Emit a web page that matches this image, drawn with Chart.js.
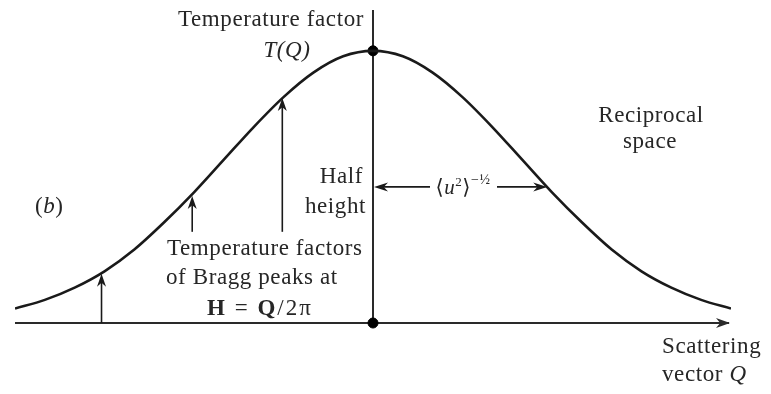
<!doctype html>
<html lang="en">
<head>
<meta charset="utf-8">
<title>Temperature factor T(Q)</title>
<script src="https://cdn.jsdelivr.net/npm/chart.js@4.4.1/dist/chart.umd.min.js"></script>
<style>
    html, body { margin: 0; background: #fff; }
    #wrap { width: 771px; height: 394px; }
</style>
</head>
<body>
<div id="wrap"><canvas id="chart"></canvas></div>
<script>
// scattering vector Q (arbitrary units) and the temperature factor T(Q)
const qValues = [-6, -5.5, -5, -4.5, -4, -3.5, -3, -2.5, -2, -1.5, -1, -0.5, 0,
                 0.5, 1, 1.5, 2, 2.5, 3, 3.5, 4, 4.5, 5, 5.5, 6];
const tValues = [0.053, 0.085, 0.13, 0.19, 0.27, 0.37, 0.48, 0.60, 0.72, 0.83, 0.92, 0.98, 1.00,
                 0.98, 0.92, 0.83, 0.72, 0.60, 0.48, 0.37, 0.27, 0.19, 0.13, 0.085, 0.053];

// Bragg peak positions, their temperature factors and where each arrow starts
const braggQ = [-4.55, -3.03, -1.52];
const braggT = [0.185, 0.47, 0.83];
const braggFrom = [0, 0.335, 0.335];

// half height and half width of the curve
const halfHeight = 0.5;
const halfWidth = 2.92;

const ink = '#1a1a1a';
const serif = '"Liberation Serif", "DejaVu Serif", serif';

function arrowHead(ctx, x, y, angle, len, half) {
    ctx.save();
    ctx.translate(x, y);
    ctx.rotate(angle);
    ctx.beginPath();
    ctx.moveTo(0, 0);
    ctx.lineTo(-len, -half);
    ctx.lineTo(-len * 0.7, 0);
    ctx.lineTo(-len, half);
    ctx.closePath();
    ctx.fill();
    ctx.restore();
}

// draw a line of text made of runs with their own fonts
function runs(ctx, parts, x, y, align, spacing) {
    ctx.letterSpacing = (spacing || 0) + 'px';
    let w = 0;
    parts.forEach(p => { ctx.font = p.font; w += ctx.measureText(p.t).width; });
    let cx = align === 'center' ? x - w / 2 : align === 'right' ? x - w : x;
    parts.forEach(p => {
        ctx.font = p.font;
        ctx.fillText(p.t, cx, y + (p.dy || 0));
        cx += ctx.measureText(p.t).width;
    });
    ctx.letterSpacing = '0px';
    return w;
}

const diagram = {
    id: 'diagram',
    beforeDatasetsDraw(chart) {
        const {ctx, chartArea, scales: {x, y}} = chart;
        const x0 = x.getPixelForValue(0), y0 = y.getPixelForValue(0);
        ctx.save();
        ctx.strokeStyle = '#2a2a2a';
        ctx.fillStyle = '#2a2a2a';
        ctx.lineWidth = 2;
        // Q axis
        ctx.beginPath();
        ctx.moveTo(chartArea.left, y0);
        ctx.lineTo(chartArea.right - 2, y0);
        ctx.stroke();
        arrowHead(ctx, chartArea.right - 1, y0, 0, 14, 5);
        // vertical line through Q = 0
        ctx.beginPath();
        ctx.moveTo(x0, chartArea.top);
        ctx.lineTo(x0, y0);
        ctx.stroke();
        ctx.restore();
    },
    afterDatasetsDraw(chart) {
        const {ctx, scales: {x, y}} = chart;
        const x0 = x.getPixelForValue(0);
        ctx.save();
        ctx.strokeStyle = ink;
        ctx.fillStyle = ink;
        ctx.lineWidth = 1.6;

        // temperature factors at the Bragg peaks
        braggQ.forEach((q, i) => {
            const px = x.getPixelForValue(q);
            const top = y.getPixelForValue(braggT[i]);
            ctx.beginPath();
            ctx.moveTo(px, y.getPixelForValue(braggFrom[i]));
            ctx.lineTo(px, top + 8);
            ctx.stroke();
            arrowHead(ctx, px, top + 1, -Math.PI / 2, 13, 4.5);
        });

        // half width at half height
        const hy = y.getPixelForValue(halfHeight);
        const hx = x.getPixelForValue(halfWidth);
        const gapL = 430, gapR = 497;
        ctx.beginPath();
        ctx.moveTo(x0 + 6, hy); ctx.lineTo(gapL, hy);
        ctx.moveTo(gapR, hy); ctx.lineTo(hx - 6, hy);
        ctx.stroke();
        arrowHead(ctx, x0 + 1, hy, Math.PI, 14, 4.5);
        arrowHead(ctx, hx, hy, 0, 14, 4.5);

        ctx.textBaseline = 'alphabetic';
        ctx.fillStyle = '#262626';
        const r = '23px ' + serif, it = 'italic 23px ' + serif, bd = 'bold 23px ' + serif;
        const sp = 0.6;

        runs(ctx, [{t: 'Temperature factor', font: r}], 364, 26, 'right', sp);
        runs(ctx, [{t: 'T(Q)', font: it}], 287, 57, 'center', sp);

        runs(ctx, [{t: '(', font: r}, {t: 'b', font: it}, {t: ')', font: r}], 35, 213, 'left', sp);

        runs(ctx, [{t: 'Half', font: r}], 363, 183, 'right', sp);
        runs(ctx, [{t: 'height', font: r}], 366, 213, 'right', sp);

        runs(ctx, [
            {t: '\u27E8', font: '21px ' + serif},
            {t: 'u', font: 'italic 21px ' + serif},
            {t: '2', font: '13px ' + serif, dy: -8},
            {t: '\u27E9', font: '21px ' + serif},
            {t: '\u2212\u00BD', font: '14px ' + serif, dy: -10}
        ], 463, hy + 7, 'center', 0.5);

        runs(ctx, [{t: 'Temperature factors', font: r}], 167, 255, 'left', sp);
        runs(ctx, [{t: 'of Bragg peaks at', font: r}], 166, 284, 'left', sp);
        runs(ctx, [
            {t: 'H', font: bd}, {t: ' = ', font: r}, {t: 'Q', font: bd}, {t: '/2\u03C0', font: r}
        ], 260, 315, 'center', 2);

        runs(ctx, [{t: 'Reciprocal', font: r}], 651, 122, 'center', sp);
        runs(ctx, [{t: 'space', font: r}], 650, 148, 'center', sp);

        runs(ctx, [{t: 'Scattering', font: r}], 662, 353, 'left', sp);
        runs(ctx, [{t: 'vector ', font: r}, {t: 'Q', font: it}], 662, 381, 'left', sp);
        ctx.restore();
    }
};

new Chart(document.getElementById('chart'), {
    type: 'scatter',
    data: {
        datasets: [{
            data: qValues.map((q, i) => ({x: q, y: tValues[i]})),
            showLine: true,
            borderColor: ink,
            borderWidth: 2.6,
            pointRadius: 0,
            cubicInterpolationMode: 'monotone'
        }, {
            data: [{x: 0, y: 1}, {x: 0, y: 0}],
            pointRadius: 5,
            backgroundColor: '#000',
            borderColor: '#000',
            clip: false
        }]
    },
    options: {
        responsive: true,
        maintainAspectRatio: false,
        animation: false,
        layout: {padding: {left: 15, right: 40, top: 10, bottom: 71}},
        scales: {
            x: {type: 'linear', min: -6, max: 6, display: false},
            y: {min: 0, max: 1.15, display: false}
        },
        plugins: {legend: {display: false}, tooltip: {enabled: false}}
    },
    plugins: [diagram]
});
</script>
</body>
</html>
